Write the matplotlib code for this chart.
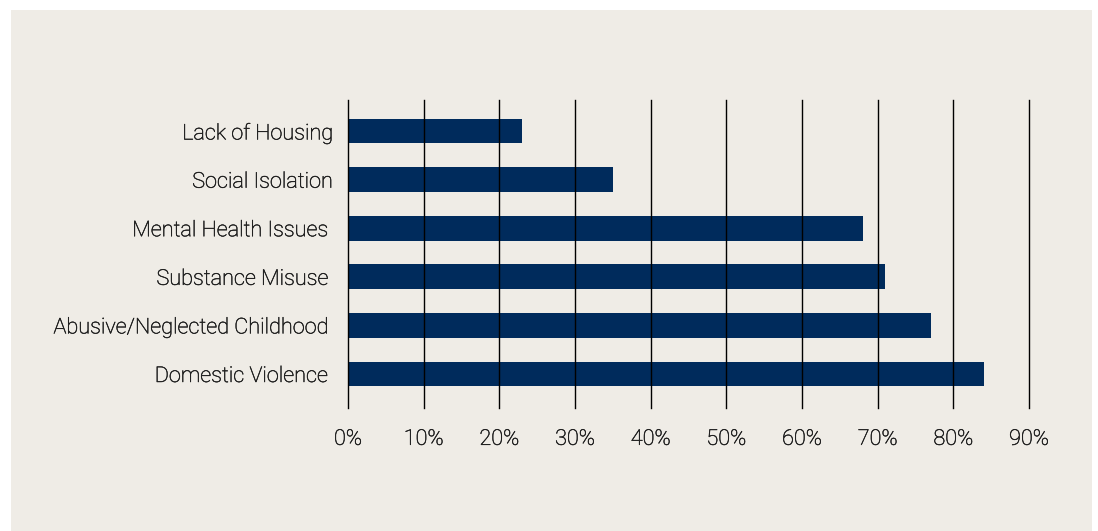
import matplotlib.pyplot as plt
import matplotlib.patheffects as pe
from matplotlib.patches import Rectangle

# 数据
categories = ['Domestic Violence ', 'Abusive/Neglected Childhood ', 'Substance Misuse ',
              'Mental Health Issues ', 'Social Isolation', 'Lack of Housing']
values = [84, 77, 71, 68, 35, 23]
ticks = [0, 10, 20, 30, 40, 50, 60, 70, 80, 90]
tick_labels = ['0%', '10%', '20%', '30%', '40%', '50%', '60%', '70%', '80%', '90%']

plt.rcParams['font.family'] = ['Roboto', 'DejaVu Sans']

bg = '#EFECE6'
navy = '#002B5C'
txt = '#1e1e1e'

fig = plt.figure(figsize=(10.98, 5.31), dpi=100, facecolor='white')
# 米色背景面板
fig.patches.append(Rectangle((11 / 1098, 0), (1092 - 11) / 1098, 1 - 10 / 531,
                             transform=fig.transFigure, facecolor=bg, edgecolor='none', zorder=-10))

ax = fig.add_axes([348 / 1098, 1 - 408 / 531, (1029 - 348) / 1098, (408 - 100) / 531])
ax.set_facecolor('none')
ax.set_zorder(1)

ax.barh(range(len(categories)), values, height=0.51, color=navy, zorder=2)

for t in ticks:
    ax.axvline(t, color='black', linewidth=1.0, zorder=3, clip_on=False)

ax.set_xlim(0, 90)
ax.set_ylim(-0.7, 5.64)
ax.set_xticks(ticks)
ax.set_xticklabels(tick_labels, fontsize=15.6, color=txt, fontweight='light')
ax.set_yticks(range(len(categories)))
ax.set_yticklabels(categories, fontsize=15.6, color=txt, fontweight='light')
ax.tick_params(axis='both', length=0)
ax.tick_params(axis='x', pad=15)
ax.tick_params(axis='y', pad=11)

# 文字稍微加粗一点
for lab in ax.get_xticklabels() + ax.get_yticklabels():
    lab.set_path_effects([pe.withStroke(linewidth=0.35, foreground=txt)])

for s in ax.spines.values():
    s.set_visible(False)

plt.savefig('out.png', dpi=100, facecolor='white')
